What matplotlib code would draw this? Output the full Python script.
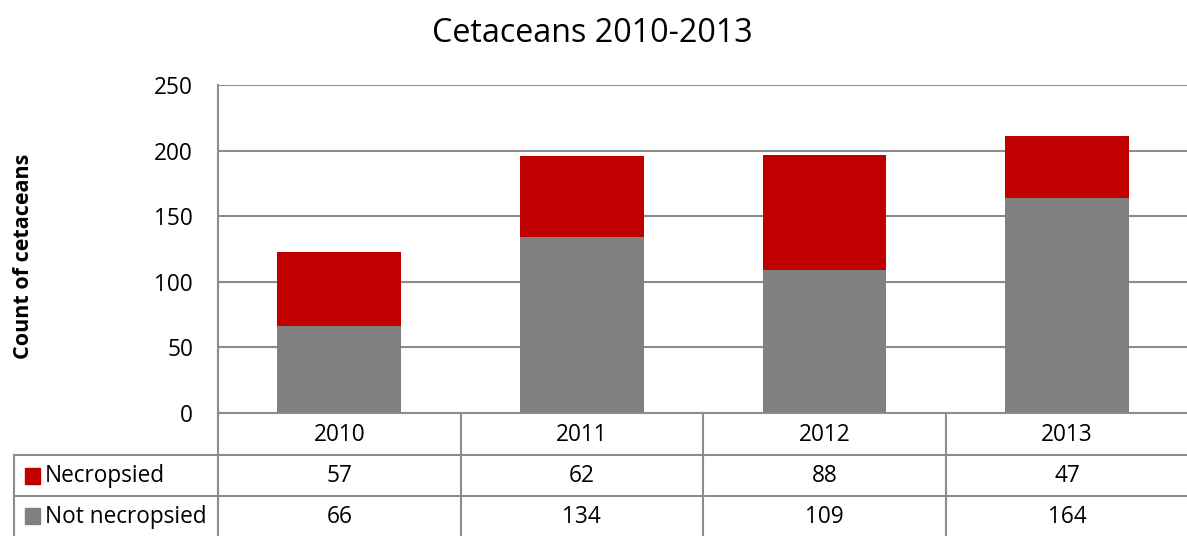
import matplotlib
matplotlib.use("Agg")
import matplotlib.pyplot as plt
from matplotlib.transforms import blended_transform_factory
from matplotlib.lines import Line2D
from matplotlib.patches import Rectangle

years = ["2010", "2011", "2012", "2013"]
necropsied = [57, 62, 88, 47]
not_necropsied = [66, 134, 109, 164]
series_names = ["Necropsied", "Not necropsied"]
yticks = [0, 50, 100, 150, 200, 250]

RED = "#C00000"
GRAY = "#808080"
LINE = "#8C8C8C"
FONT = "Open Sans"
FS = 16.3

W, H = 1187, 536
fig = plt.figure(figsize=(W / 100, H / 100), dpi=100)

def fx(px):
    return px / W

def fy(py):
    return 1 - py / H

ax = fig.add_axes([fx(218), fy(413), fx(1187) - fx(218) + 0.001, fy(85) - fy(413)])
x = list(range(len(years)))
ax.bar(x, not_necropsied, width=0.51, color=GRAY, zorder=3)
ax.bar(x, necropsied, bottom=not_necropsied, width=0.51, color=RED, zorder=3)
ax.set_xlim(-0.5, len(years) - 0.5)
ax.set_ylim(0, 250)
ax.set_yticks(yticks)
ax.set_yticklabels([str(t) for t in yticks], fontsize=FS, family=FONT)
ax.tick_params(axis="y", length=0, pad=18)
ax.set_xticks([])
ax.grid(axis="y", color=LINE, linewidth=1.5, zorder=0)
for s in ["top", "right", "bottom"]:
    ax.spines[s].set_visible(False)
ax.spines["left"].set_color(LINE)
ax.spines["left"].set_linewidth(1.5)

fig.text(fx(592), fy(33), "Cetaceans 2010-2013", ha="center", va="center",
         fontsize=23.2, family=FONT)
fig.text(fx(24), fy(256), "Count of cetaceans", ha="center", va="center",
         rotation=90, fontsize=15.5, fontweight="bold", family=FONT)

# Data table
tr = blended_transform_factory(ax.transData, fig.transFigure)
row_tops = [413, 455, 496, 536]
lw = 1.5
fig.add_artist(Line2D([fx(218), 1.0], [fy(413), fy(413)], color=LINE, lw=lw))
for yy in [455, 496]:
    fig.add_artist(Line2D([fx(14), 1.0], [fy(yy), fy(yy)], color=LINE, lw=lw))
fig.add_artist(Line2D([fx(14), fx(14)], [fy(455), fy(536)], color=LINE, lw=lw))
for i in range(len(years)):
    xb = i - 0.5
    fig.add_artist(Line2D([xb, xb], [fy(413), fy(536)], color=LINE, lw=lw, transform=tr))

rows = [years, [str(v) for v in necropsied], [str(v) for v in not_necropsied]]
for r, vals in enumerate(rows):
    yc = (row_tops[r] + row_tops[r + 1]) / 2
    for i, v in enumerate(vals):
        fig.text(i, fy(yc + 1), v, ha="center", va="center", fontsize=FS,
                 family=FONT, transform=tr)

for r, (name, col) in enumerate(zip(series_names, [RED, GRAY])):
    yc = (row_tops[r + 1] + row_tops[r + 2]) / 2
    fig.add_artist(Rectangle((fx(25), fy(yc + 8)), fx(15), fy(0) - fy(16), color=col,
                             transform=fig.transFigure))
    fig.text(fx(45), fy(yc + 1), name, ha="left", va="center", fontsize=FS, family=FONT)

fig.savefig("out.png", dpi=100)
